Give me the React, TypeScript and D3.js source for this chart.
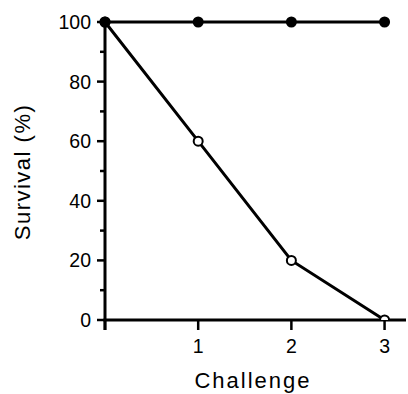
import React, { useEffect, useRef } from "react";
import * as d3 from "d3";

const challenges = [0, 1, 2, 3];
const controlSurvival = [100, 100, 100, 100];
const treatedSurvival = [100, 60, 20, 0];
const xTickValues = [0, 1, 2, 3];
const xTickLabels = ["", "1", "2", "3"];
const yMajorTicks = [0, 20, 40, 60, 80, 100];
const yMinorTicks = [10, 30, 50, 70, 90];

const App = () => {
  const svgRef = useRef<SVGSVGElement>(null);

  useEffect(() => {
    const width = 408;
    const height = 394;
    const svg = d3.select(svgRef.current);
    svg.selectAll("*").remove();
    svg.attr("width", width).attr("height", height);

    const x = d3.scaleLinear().domain([0, 3.23]).range([105, 406]);
    const y = d3.scaleLinear().domain([0, 100]).range([320, 22]);
    const font = "Liberation Sans, Arial, sans-serif";

    svg
      .append("defs")
      .append("clipPath")
      .attr("id", "plotclip")
      .append("rect")
      .attr("x", 0)
      .attr("y", 0)
      .attr("width", width)
      .attr("height", y(0));

    // y axis
    const yAxis = svg.append("g").attr("transform", `translate(${x(0)},0)`);
    yAxis
      .append("line")
      .attr("y1", y(0) + 10)
      .attr("y2", y(100))
      .attr("stroke", "black")
      .attr("stroke-width", 3);
    yAxis
      .selectAll(".major")
      .data(yMajorTicks)
      .enter()
      .append("line")
      .attr("x1", -8)
      .attr("x2", 0)
      .attr("y1", (d) => y(d))
      .attr("y2", (d) => y(d))
      .attr("stroke", "black")
      .attr("stroke-width", 2.5);
    yAxis
      .selectAll(".minor")
      .data(yMinorTicks)
      .enter()
      .append("line")
      .attr("x1", -5)
      .attr("x2", 0)
      .attr("y1", (d) => y(d))
      .attr("y2", (d) => y(d))
      .attr("stroke", "black")
      .attr("stroke-width", 2.5);
    yAxis
      .selectAll("text")
      .data(yMajorTicks)
      .enter()
      .append("text")
      .attr("x", -14)
      .attr("y", (d) => y(d))
      .attr("dy", "0.36em")
      .attr("text-anchor", "end")
      .attr("font-family", font)
      .attr("font-size", 19.5)
      .text((d) => d);

    // x axis
    const xAxis = svg.append("g").attr("transform", `translate(0,${y(0)})`);
    xAxis
      .append("line")
      .attr("x1", x(0) - 1.5)
      .attr("x2", x(3.23))
      .attr("stroke", "black")
      .attr("stroke-width", 3);
    xAxis
      .selectAll(".tick")
      .data(xTickValues)
      .enter()
      .append("line")
      .attr("x1", (d) => x(d))
      .attr("x2", (d) => x(d))
      .attr("y1", 0)
      .attr("y2", 10)
      .attr("stroke", "black")
      .attr("stroke-width", 2.5);
    xAxis
      .selectAll("text")
      .data(xTickValues)
      .enter()
      .append("text")
      .attr("x", (d) => x(d))
      .attr("y", 33)
      .attr("text-anchor", "middle")
      .attr("font-family", font)
      .attr("font-size", 19.5)
      .text((d, i) => xTickLabels[i]);

    const line = d3
      .line<number>()
      .x((d, i) => x(challenges[i]))
      .y((d) => y(d));

    const plot = svg.append("g").attr("clip-path", "url(#plotclip)");

    plot
      .append("path")
      .datum(controlSurvival)
      .attr("fill", "none")
      .attr("stroke", "black")
      .attr("stroke-width", 3)
      .attr("d", line);
    plot
      .append("path")
      .datum(treatedSurvival)
      .attr("fill", "none")
      .attr("stroke", "black")
      .attr("stroke-width", 3)
      .attr("d", line);

    plot
      .selectAll(".open")
      .data(treatedSurvival)
      .enter()
      .append("circle")
      .attr("cx", (d, i) => x(challenges[i]))
      .attr("cy", (d) => y(d))
      .attr("r", 4.5)
      .attr("fill", "white")
      .attr("stroke", "black")
      .attr("stroke-width", 2);

    svg
      .selectAll(".filled")
      .data(controlSurvival)
      .enter()
      .append("circle")
      .attr("cx", (d, i) => x(challenges[i]))
      .attr("cy", (d) => y(d))
      .attr("r", 5.5)
      .attr("fill", "black");

    svg
      .append("text")
      .attr("x", 253)
      .attr("y", 388)
      .attr("text-anchor", "middle")
      .attr("font-family", font)
      .attr("font-size", 22)
      .attr("letter-spacing", 2)
      .text("Challenge");

    svg
      .append("text")
      .attr("transform", `translate(30,${y(50) + 1}) rotate(-90)`)
      .attr("text-anchor", "middle")
      .attr("font-family", font)
      .attr("font-size", 22)
      .attr("letter-spacing", 1.5)
      .text("Survival (%)");
  }, []);

  return (
    <div style={{ position: "absolute", left: 0, top: 0 }}>
      <svg ref={svgRef} style={{ display: "block" }}></svg>
    </div>
  );
};

export default App;
